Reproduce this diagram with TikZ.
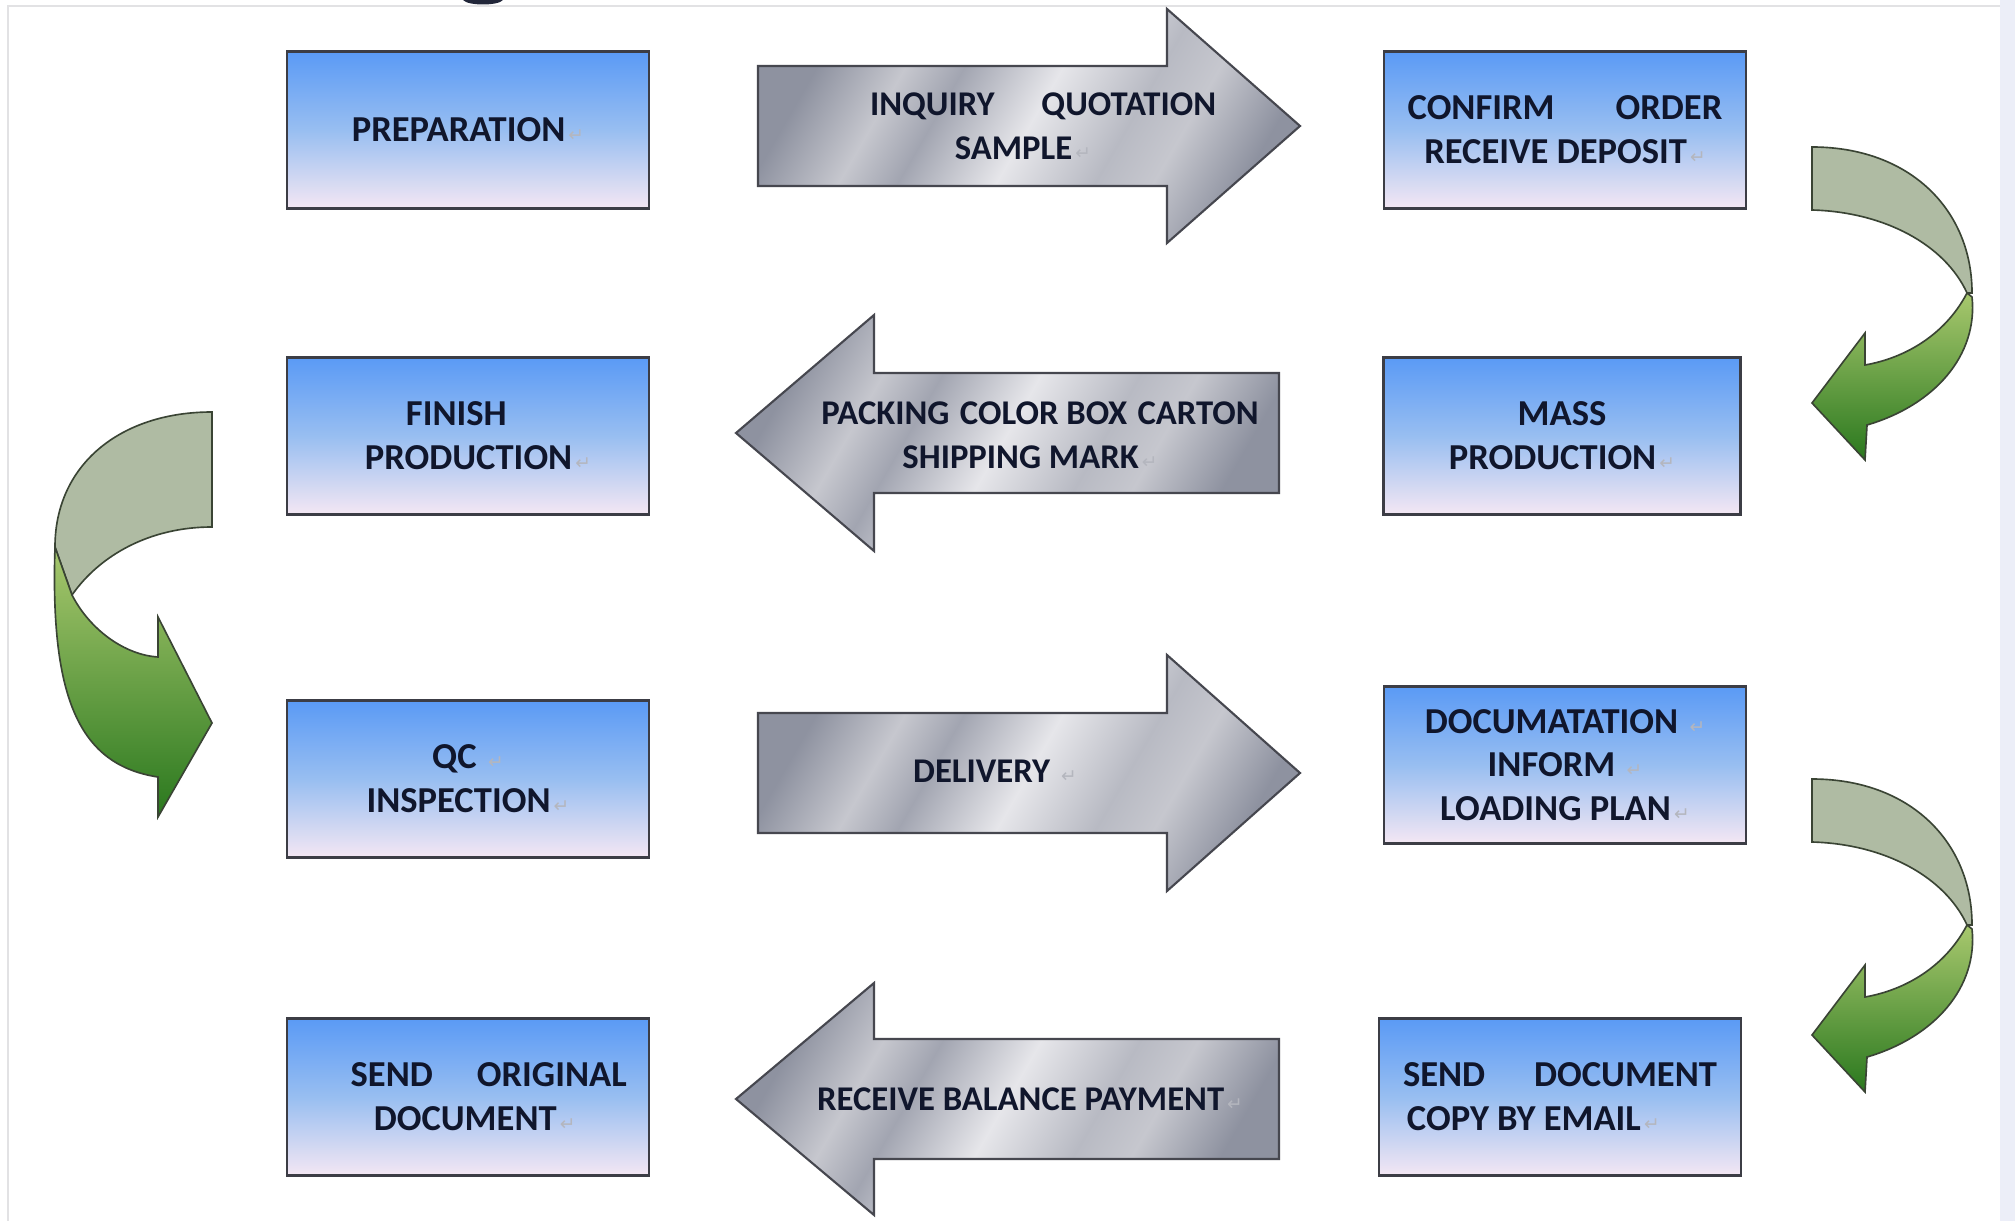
\documentclass[tikz,border=0pt]{standalone}
\usepackage{fontspec}
\setmainfont{Carlito}
\newfontfamily\markfont{DejaVu Sans}

\definecolor{boxtop}{HTML}{5A9AF5}
\definecolor{boxmid}{HTML}{98BEF1}
\definecolor{boxbot}{HTML}{F4E7F3}
\definecolor{boxline}{HTML}{3C3D45}
\definecolor{txtdark}{HTML}{10162C}
\definecolor{markgray}{HTML}{B4B6BE}
\definecolor{metalA}{HTML}{8E92A0}
\definecolor{metalB}{HTML}{C6C7CE}
\definecolor{metalC}{HTML}{A2A5B1}
\definecolor{metalD}{HTML}{E6E6EA}
\definecolor{metalE}{HTML}{B8BAC3}
\definecolor{metalline}{HTML}{46474F}
\definecolor{bandgray}{HTML}{AFBBA3}
\definecolor{greenlight}{HTML}{A8C86E}
\definecolor{greendark}{HTML}{2A781E}
\definecolor{curveline}{HTML}{3A4434}
\definecolor{framegray}{HTML}{E2E2E4}
\definecolor{sideband}{HTML}{ECEEF8}

\pgfdeclarehorizontalshading{metal}{100bp}{color(0bp)=(metalA); color(25bp)=(metalA);
  color(34bp)=(metalB); color(40bp)=(metalC); color(50bp)=(metalD); color(60bp)=(metalE);
  color(66bp)=(metalB); color(75bp)=(metalA); color(100bp)=(metalA)}

\newcommand{\stagefont}{\fontsize{15.6}{18.7}\selectfont\bfseries}
\newcommand{\arrowfont}{\fontsize{14.8}{18.7}\selectfont\bfseries}
\newcommand{\pmark}{{\markfont\mdseries\fontsize{8}{8}\selectfont\color{markgray}\,↵}}

\tikzset{
  stepbox/.style={draw=boxline, line width=1.1pt, top color=boxtop, bottom color=boxbot,
    middle color=boxmid, minimum width=5.43cm, minimum height=2.36cm, inner sep=0pt,
    align=center, font=\stagefont, text=txtdark},
  metalarrow/.style={draw=metalline, line width=0.9pt, shading=metal, shading angle=-30},
  arrowtext/.style={font=\arrowfont, text=txtdark, align=center, inner sep=0pt},
  backband/.style={fill=bandgray, draw=curveline, line width=0.7pt},
  frontband/.style={top color=greenlight, bottom color=greendark, draw=curveline, line width=0.7pt},
}

\begin{document}
\begin{tikzpicture}[x=0.015cm, y=-0.015cm]
  \useasboundingbox (0,0) rectangle (2015,1221);
  \fill[white] (0,0) rectangle (2015,1221);
  \fill[sideband] (2000,0) rectangle (2015,1221);
  \draw[framegray, line width=1pt] (8,1221) -- (8,6) -- (2000,6);
  % bottom of a cut-off heading glyph
  \fill[txtdark!85!gray] (463,0) .. controls (468,6) and (498,6) .. (503,0) -- cycle;

  % stages
  \node[stepbox] (prep)     at (468,130)  {PREPARATION\pmark};
  \node[stepbox] (confirm)  at (1565,130) {\makebox[4.72cm]{CONFIRM\hfill ORDER}\\RECEIVE DEPOSIT\pmark};
  \node[stepbox] (finish)   at (468,436)  {FINISH\hspace*{0.35cm}\\\hspace*{0.3cm}PRODUCTION\pmark};
  \node[stepbox, minimum width=5.36cm] (mass) at (1562,436) {MASS\\PRODUCTION\pmark};
  \node[stepbox] (qc)       at (468,779)  {QC \pmark\\INSPECTION\pmark};
  \node[stepbox] (docs)     at (1565,765) {DOCUMATATION \pmark\\INFORM \pmark\\LOADING PLAN\pmark};
  \node[stepbox] (original) at (468,1097) {\hspace*{0.62cm}\makebox[4.14cm]{SEND\hfill ORIGINAL}\\\hspace*{0.2cm}DOCUMENT\pmark};
  \node[stepbox] (copy)     at (1560,1097) {\makebox[4.71cm]{SEND\hfill DOCUMENT}\\COPY BY EMAIL\pmark\hspace*{0.8cm}};

  % block arrows between the columns
  \draw[metalarrow] (758,66) -- (1167,66) -- (1167,9) -- (1300,126) -- (1167,243) -- (1167,186) -- (758,186) -- cycle;
  \node[arrowtext] (inquiry) at (1043,126) {\makebox[5.19cm]{INQUIRY\hfill QUOTATION}\\SAMPLE\pmark\hspace*{0.6cm}};

  \draw[metalarrow] (1279,373) -- (874,373) -- (874,315) -- (736,433) -- (874,551) -- (874,493) -- (1279,493) -- cycle;
  \node[arrowtext] (packing) at (1040,435) {\makebox[6.55cm]{PACKING\hspace{0.3em plus 1fill}COLOR BOX\hspace{0.3em plus 1fill}CARTON}\\SHIPPING MARK\pmark\hspace*{0.3cm}};

  \draw[metalarrow] (758,713) -- (1167,713) -- (1167,655) -- (1300,773) -- (1167,891) -- (1167,833) -- (758,833) -- cycle;
  \node[arrowtext] (delivery) at (995,771) {DELIVERY \pmark};

  \draw[metalarrow] (1279,1039) -- (874,1039) -- (874,983) -- (736,1099) -- (874,1215) -- (874,1159) -- (1279,1159) -- cycle;
  \node[arrowtext] (balance) at (1030,1099) {RECEIVE BALANCE PAYMENT\pmark};

  % turning arrows, right side
  \foreach \dy in {0,632}{
    \begin{scope}[shift={(0,\dy)}]
      \draw[backband] (1812,147) .. controls (1910,147) and (1972,210) .. (1972,293)
        -- (1967,293) .. controls (1945,245) and (1885,212) .. (1812,210) -- cycle;
      \draw[frontband] (1967,293) .. controls (1945,335) and (1905,358) .. (1865,365)
        -- (1865,333) -- (1812,403) -- (1865,460) -- (1867,425)
        .. controls (1935,405) and (1978,355) .. (1972,297) -- cycle;
    \end{scope}
  }

  % turning arrow, left side
  \draw[backband] (212,412) .. controls (120,412) and (55,465) .. (55,547)
    -- (72,595) .. controls (100,555) and (150,527) .. (212,527) -- cycle;
  \draw[frontband] (55,547) .. controls (50,700) and (80,765) .. (158,777)
    -- (158,817) -- (212,723) -- (158,617) -- (158,657)
    .. controls (125,655) and (90,630) .. (72,595) -- cycle;
\end{tikzpicture}
\end{document}
